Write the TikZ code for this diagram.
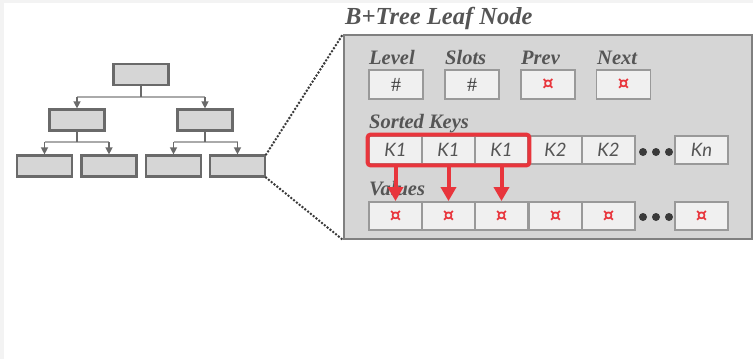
\documentclass[tikz,border=0pt]{standalone}
\usepackage{fontspec}
\setmainfont{Liberation Serif}
\newfontfamily\keyfont{Lato}
\newfontfamily\symfont{DejaVu Sans}
\usetikzlibrary{arrows.meta,fit}
\definecolor{boxfill}{HTML}{D6D6D6}
\definecolor{boxline}{HTML}{6A6A6A}
\definecolor{cellfill}{HTML}{F0F0F0}
\definecolor{cellline}{HTML}{999999}
\definecolor{txt}{HTML}{555555}
\definecolor{ptrred}{HTML}{E8353C}
\definecolor{bgstrip}{HTML}{F3F3F3}
\definecolor{hbarc}{HTML}{AAAAAA}
\definecolor{dotc}{HTML}{3A3A3A}
\begin{document}
\begin{tikzpicture}[x=1pt,y=-1pt,
  treebox/.style={draw=boxline, fill=boxfill, line width=2.2pt, minimum width=55pt, minimum height=21pt, inner sep=0pt},
  cell/.style={draw=cellline, fill=cellfill, line width=1.8pt, minimum width=53pt, minimum height=28pt, inner sep=0pt, text=txt, font=\keyfont\itshape\fontsize{18.5}{18.5}\selectfont},
  hdrcell/.style={cell, minimum width=54pt, minimum height=29pt},
  ptr/.style={text=ptrred, font=\symfont\bfseries\fontsize{18}{18}\selectfont},
  num/.style={text=black!75, font=\fontsize{20}{20}\selectfont},
  lbl/.style={anchor=base west, inner sep=0pt, text=txt, font=\bfseries\itshape\fontsize{20.5}{20.5}\selectfont},
  stem/.style={draw=boxline, line width=1.3pt},
  stemarrow/.style={stem, -{Triangle[width=7pt,length=7pt]}},
  hbar/.style={draw=hbarc, line width=1.6pt},
  zoomline/.style={draw=dotc, line width=2.8pt, line cap=round, dash pattern=on 0pt off 3.6pt},
  redframe/.style={draw=ptrred, line width=4pt, rounded corners=3pt, inner sep=0.5pt},
  redarrow/.style={draw=ptrred, line width=4pt, -{Triangle[width=15pt,length=14pt]}},
  moredot/.style={circle, fill=dotc, inner sep=0pt, minimum size=8pt}
]
\useasboundingbox (0,0) rectangle (753,359);
\fill[bgstrip] (0,0) rectangle (753,359);
\fill[white] (4,3) rectangle (753,359);

% tree
\node[treebox] (root) at (141,74.5) {};
\node[treebox] (ia) at (77,120) {};
\node[treebox] (ib) at (205,120) {};
\node[treebox] (la) at (44.5,166) {};
\node[treebox] (lb) at (109,166) {};
\node[treebox] (lc) at (173.5,166) {};
\node[treebox] (ld) at (237.5,166) {};
\coordinate (j0) at (141,97);
\coordinate (ja) at (77,142);
\coordinate (jb) at (205,142);
\draw[hbar] (ia |- j0) -- (ib |- j0);
\draw[hbar] (la |- ja) -- (lb |- ja);
\draw[hbar] (lc |- jb) -- (ld |- jb);
\draw[stem] (root.south) -- (j0);
\draw[stem] (ia.south) -- (ja);
\draw[stem] (ib.south) -- (jb);
\draw[stemarrow] (ia |- j0) -- (ia.north);
\draw[stemarrow] (ib |- j0) -- (ib.north);
\draw[stemarrow] (la |- ja) -- (la.north);
\draw[stemarrow] (lb |- ja) -- (lb.north);
\draw[stemarrow] (lc |- jb) -- (lc.north);
\draw[stemarrow] (ld |- jb) -- (ld.north);

% leaf node detail
\node[draw=boxline!85!white, fill=boxfill, line width=2pt, minimum width=408pt, minimum height=204pt, inner sep=0pt] (big) at (548,137) {};
\draw[zoomline] (ld.north east) -- (big.north west);
\draw[zoomline] (ld.south east) -- (big.south west);

\node[anchor=base west, inner sep=0pt, text=txt, font=\bfseries\itshape\fontsize{24.5}{24.5}\selectfont] (title) at (345,24.5) {B+Tree Leaf Node};

% header fields
\node[hdrcell, num] (hlevel) at (396,84.5) {\#};
\node[hdrcell, num] (hslots) at (472,84.5) {\#};
\node[hdrcell, ptr] (hprev) at (548,84.5) {¤};
\node[hdrcell, ptr] (hnext) at (623.5,84.5) {¤};
\node[lbl] (tlevel) at (369,64) {Level};
\node[lbl] (tslots) at (445,64) {Slots};
\node[lbl] (tprev) at (521,64) {Prev};
\node[lbl] (tnext) at (597,64) {Next};

% keys
\node[lbl] (tkeys) at (369,128) {Sorted Keys};
\node[cell] (k1) at (395.5,150) {K1};
\node[cell] (k2) at (448.5,150) {K1};
\node[cell] (k3) at (501.5,150) {K1};
\node[cell] (k4) at (555.5,150) {K2};
\node[cell] (k5) at (608.5,150) {K2};
\node[cell] (kn) at (701.5,150) {Kn};
\node[moredot] (kd1) at (643,152) {};
\node[moredot] (kd2) at (656,152) {};
\node[moredot] (kd3) at (669,152) {};

% values
\node[lbl] (tvals) at (369,195) {Values};
\node[cell, ptr] (v1) at (395.5,216) {¤};
\node[cell, ptr] (v2) at (448.5,216) {¤};
\node[cell, ptr] (v3) at (501.5,216) {¤};
\node[cell, ptr] (v4) at (555.5,216) {¤};
\node[cell, ptr] (v5) at (608.5,216) {¤};
\node[cell, ptr] (vn) at (701.5,216) {¤};
\node[moredot] (vd1) at (643,217) {};
\node[moredot] (vd2) at (656,217) {};
\node[moredot] (vd3) at (669,217) {};

% red group and arrows
\node[redframe, fit=(k1)(k3)] (grp) {};
\draw[redarrow] (k1 |- grp.south) -- (v1.north);
\draw[redarrow] (k2 |- grp.south) -- (v2.north);
\draw[redarrow] (k3 |- grp.south) -- (v3.north);
\end{tikzpicture}
\end{document}
